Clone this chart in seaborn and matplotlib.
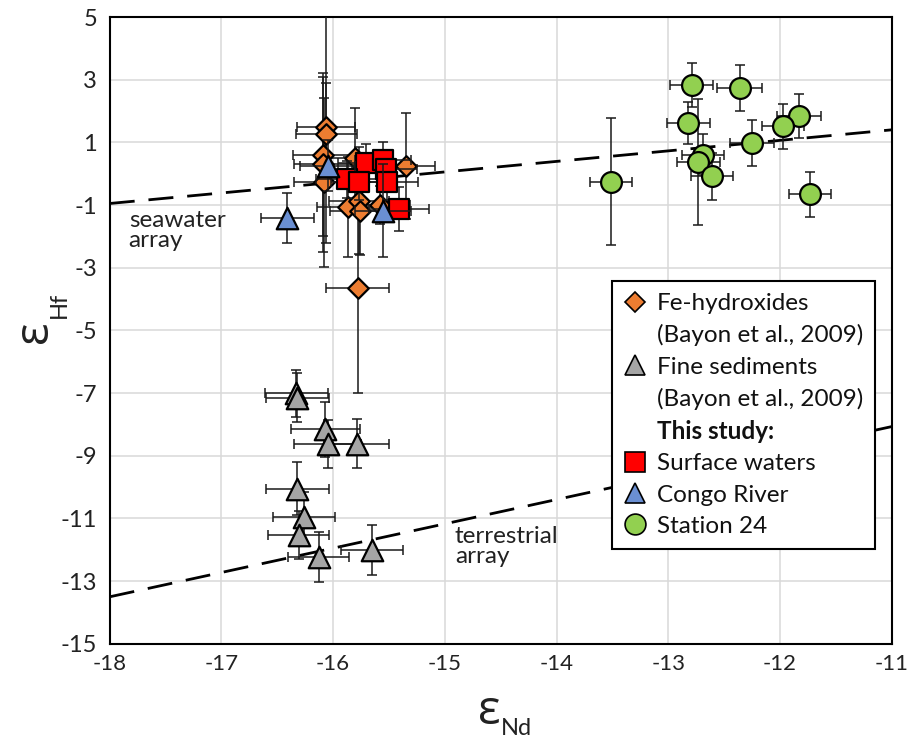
import matplotlib
matplotlib.use("Agg")
import matplotlib.pyplot as plt
import seaborn as sns
import pandas as pd
from matplotlib.lines import Line2D

# Fe-hydroxides (Bayon et al., 2009)
fe_nd = [-16.06, -16.06, -16.09, -16.09, -16.08, -15.80, -15.35, -15.87, -15.77, -15.76, -15.58, -15.78]
fe_hf = [1.48, 1.28, 0.60, 0.30, -0.27, 0.50, 0.25, -1.07, -0.86, -1.18, -1.00, -3.65]
fe_nd_err = [0.26, 0.27, 0.27, 0.26, 0.27, 0.27, 0.26, 0.27, 0.27, 0.27, 0.27, 0.28]
fe_hf_err = [3.70, 1.60, 2.60, 2.80, 2.70, 1.60, 1.70, 1.60, 1.70, 1.40, 0.60, 3.35]

# Fine sediments (Bayon et al., 2009)
sed_nd = [-16.33, -16.32, -16.07, -16.05, -15.79, -16.32, -16.26, -16.31, -16.13, -15.65]
sed_hf = [-7.00, -7.15, -8.16, -8.62, -8.62, -10.05, -10.95, -11.54, -12.23, -12.02]
sed_nd_err = [0.28, 0.28, 0.31, 0.30, 0.29, 0.28, 0.28, 0.27, 0.27, 0.28]
sed_hf_err = [0.75, 0.78, 0.87, 0.77, 0.78, 0.85, 0.80, 0.77, 0.80, 0.80]

# This study: surface waters
sw_nd = [-15.71, -15.55, -15.53, -15.88, -15.77, -15.52, -15.41]
sw_hf = [0.35, 0.45, 0.15, -0.18, -0.25, -0.25, -1.13]
sw_nd_err = [0.25, 0.25, 0.28, 0.27, 0.25, 0.28, 0.27]
sw_hf_err = [0.60, 0.55, 0.60, 0.60, 0.60, 0.60, 0.70]

# Congo River
cr_nd = [-16.41, -16.05, -15.55]
cr_hf = [-1.40, 0.26, -1.18]
cr_nd_err = [0.24, 0.25, 0.25]
cr_hf_err = [0.80, 0.80, 1.48]

# Station 24
st_nd = [-12.79, -12.36, -12.82, -11.83, -11.97, -12.25, -12.69, -12.73, -12.61, -13.51, -11.73]
st_hf = [2.83, 2.73, 1.62, 1.83, 1.51, 0.98, 0.61, 0.37, -0.08, -0.25, -0.66]
st_nd_err = [0.19, 0.20, 0.19, 0.20, 0.19, 0.20, 0.19, 0.19, 0.19, 0.19, 0.19]
st_hf_err = [0.70, 0.73, 0.66, 0.70, 0.73, 0.73, 0.66, 2.00, 0.75, 2.03, 0.73]

# reference arrays (end points)
seawater_nd = [-18, -11]
seawater_hf = [-0.95, 1.40]
terrestrial_nd = [-18, -11]
terrestrial_hf = [-13.50, -8.07]

sns.set_theme(style="whitegrid")
plt.rcParams["font.family"] = ["Lato", "DejaVu Sans"]
plt.rcParams["axes.unicode_minus"] = False

fig = plt.figure(figsize=(9.07, 7.4), dpi=100)
ax = fig.add_axes([0.121, 0.130, 0.862, 0.847])

# dashed arrays
for xs, ys in [(seawater_nd, seawater_hf), (terrestrial_nd, terrestrial_hf)]:
    sns.lineplot(x=xs, y=ys, ax=ax, color="black", lw=2.0, dashes=False, zorder=2)
for line in ax.lines:
    line.set_dashes((9, 5))

groups = [
    (fe_nd, fe_hf, fe_nd_err, fe_hf_err, "D", 110, "#ED7D31"),
    (sed_nd, sed_hf, sed_nd_err, sed_hf_err, "^", 240, "#A5A5A5"),
    (sw_nd, sw_hf, sw_nd_err, sw_hf_err, "s", 225, "#FF0000"),
    (cr_nd, cr_hf, cr_nd_err, cr_hf_err, "^", 240, "#6A8FD2"),
    (st_nd, st_hf, st_nd_err, st_hf_err, "o", 225, "#92D050"),
]
z = 3
for xs, ys, xe, ye, mk, size, col in groups:
    ax.errorbar(xs, ys, xerr=xe, yerr=ye, fmt="none", ecolor="#1a1a1a",
                elinewidth=1.1, capsize=3.8, capthick=1.1, zorder=z)
    df = pd.DataFrame({"nd": xs, "hf": ys})
    sns.scatterplot(data=df, x="nd", y="hf", marker=mk, s=size, color=col,
                    edgecolor="black", linewidth=1.6, ax=ax, zorder=z + 1, legend=False)
    z += 2

ax.set_xlim(-18, -11)
ax.set_ylim(-15, 5)
ax.set_xticks(range(-18, -10))
ax.set_yticks(range(-15, 6, 2))
ax.set_xlabel("")
ax.set_ylabel("")
ax.grid(True, color="#D9D9D9", lw=1.1)
for s in ax.spines.values():
    s.set_color("black")
    s.set_linewidth(1.5)
ax.tick_params(length=0, labelsize=17, colors="#222222")
ax.tick_params(axis="y", pad=9)
ax.tick_params(axis="x", pad=7, labelsize=16)

ax.text(-17.83, -1.15, "seawater\narray", fontsize=17.5, va="top", ha="left",
        linespacing=0.95, color="#222222")
ax.text(-14.91, -11.25, "terrestrial\narray", fontsize=17.5, va="top", ha="left",
        linespacing=0.95, color="#222222")

# axis labels: epsilon with subscript
fig.text(0.539, 1 - 724 / 740, "ε", fontsize=34, ha="center", va="baseline",
         family=["Open Sans", "DejaVu Sans"], color="#222222")
fig.text(0.552, 1 - 735 / 740, "Nd", fontsize=17, ha="left", va="baseline", color="#222222")
fig.text(58 / 907, 1 - 332 / 740, "ε", fontsize=34, ha="right", va="center", rotation=90,
         family=["Open Sans", "DejaVu Sans"], color="#222222")
fig.text(70 / 907, 1 - 318 / 740, "Hf", fontsize=17, ha="right", va="bottom", rotation=90,
         color="#222222")

blank = Line2D([], [], linestyle="none")
handles = [
    Line2D([], [], ls="none", marker="D", ms=10, mfc="#ED7D31", mec="black", mew=1.2),
    blank,
    Line2D([], [], ls="none", marker="^", ms=15, mfc="#A5A5A5", mec="black", mew=1.2),
    blank,
    blank,
    Line2D([], [], ls="none", marker="s", ms=14, mfc="#FF0000", mec="black", mew=1.2),
    Line2D([], [], ls="none", marker="^", ms=15, mfc="#6A8FD2", mec="black", mew=1.2),
    Line2D([], [], ls="none", marker="o", ms=15, mfc="#92D050", mec="black", mew=1.2),
]
labels = ["Fe-hydroxides", "(Bayon et al., 2009)", "Fine sediments", "(Bayon et al., 2009)",
          "This study:", "Surface waters", "Congo River", "Station 24"]
leg = ax.legend(handles, labels, loc="upper left", bbox_to_anchor=(0.642, 0.579),
                borderaxespad=0, fontsize=17.5, frameon=True, fancybox=False,
                framealpha=1, facecolor="white", edgecolor="black",
                handlelength=0.9, handletextpad=0.45, borderpad=0.5, labelspacing=0.42)
leg.get_frame().set_linewidth(1.5)
leg.set_zorder(20)
for t in leg.get_texts():
    t.set_color("#111111")
leg.get_texts()[4].set_fontweight("bold")

fig.savefig("out.png", dpi=100)
